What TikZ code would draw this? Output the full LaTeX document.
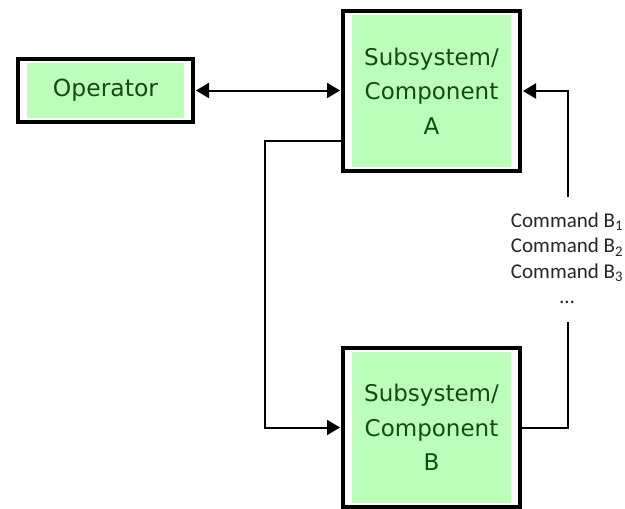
\documentclass[tikz,border=0pt]{standalone}
\usepackage{fontspec}
\setmainfont{DejaVu Sans}
\newfontfamily\cmdfont{Carlito}
\usetikzlibrary{arrows.meta}

\definecolor{boxgreen}{RGB}{187,255,187}
\definecolor{textgreen}{RGB}{18,76,18}
\definecolor{labelgray}{RGB}{38,38,38}

\tikzset{
  block/.style={draw, line width=4pt, fill=white, inner sep=0pt, align=center,
    text=textgreen, font=\fontsize{23}{34.7}\selectfont,
    path picture={\fill[boxgreen]
      ([xshift=9pt,yshift=4pt]path picture bounding box.south west) rectangle
      ([xshift=-9pt,yshift=-4pt]path picture bounding box.north east);}},
  conn/.style={line width=2pt, draw=black},
  tip/.tip={Triangle[length=13pt,width=15pt]},
}

\begin{document}
\begin{tikzpicture}[x=1pt,y=-1pt]
  \useasboundingbox (0,0) rectangle (625,509);

  % blocks
  \node[block, minimum width=175pt, minimum height=63pt,
        font=\fontsize{23.5}{34.7}\selectfont] (op) at (105.5,90.5) {Operator};
  \node[block, minimum width=177pt, minimum height=160pt] (a) at (431.5,91) {Subsystem/\\Component\\A};
  \node[block, minimum width=177pt, minimum height=159pt] (b) at (431.5,427.5) {Subsystem/\\Component\\B};

  % command list beside the feedback line
  \node[align=center, inner sep=0pt, text=labelgray,
        font=\cmdfont\fontsize{21}{25.5}\selectfont] (cmd) at (567,258.5)
    {Command B\textsubscript{1}\\Command B\textsubscript{2}\\Command B\textsubscript{3}\\…};

  % routing points
  \coordinate (cmdtop) at (567.5,197);
  \coordinate (cmdbot) at (567.5,322);
  \coordinate (lft) at (265,141);

  % connectors
  \draw[conn, tip-tip, shorten <=1pt, shorten >=1pt] (op.east) -- (op.east -| a.west);
  \draw[conn, -tip, shorten >=1pt] (cmdtop) |- (a.east);
  \draw[conn] (b.east) -| (cmdbot);
  \draw[conn, -tip, shorten >=1pt] (a.west |- lft) -- (lft) |- (b.west);
\end{tikzpicture}
\end{document}
